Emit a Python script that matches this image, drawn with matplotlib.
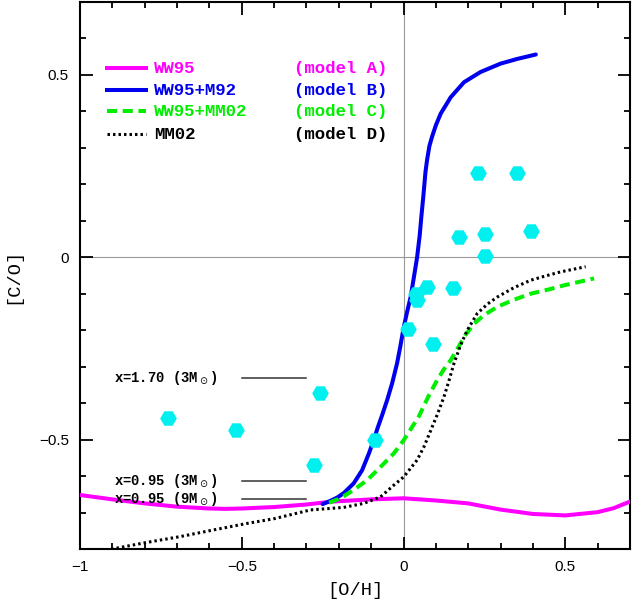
import matplotlib
matplotlib.use("Agg")
import matplotlib.pyplot as plt
from matplotlib.ticker import MultipleLocator

# WW95 (model A)
ww95_x = [-1.0, -0.9, -0.8, -0.7, -0.6, -0.55, -0.5, -0.4, -0.3, -0.22, -0.1,
          0.0, 0.1, 0.2, 0.3, 0.4, 0.5, 0.6, 0.65, 0.7]
ww95_y = [-0.652, -0.664, -0.675, -0.684, -0.689, -0.690, -0.689, -0.685, -0.678,
          -0.670, -0.664, -0.661, -0.667, -0.675, -0.692, -0.704, -0.708, -0.699,
          -0.688, -0.670]

# WW95+M92 (model B)
m92_x = [-0.25, -0.226, -0.205, -0.185, -0.154, -0.128, -0.107, -0.092, -0.08,
         -0.065, -0.05, -0.035, -0.02, -0.01, 0.0, 0.011, 0.022, 0.032, 0.042, 0.05,
         0.055, 0.061, 0.068, 0.073, 0.08, 0.088, 0.1, 0.115, 0.146, 0.187, 0.238,
         0.300, 0.352, 0.409]
m92_y = [-0.677, -0.668, -0.659, -0.647, -0.620, -0.584, -0.538, -0.501, -0.468,
         -0.430, -0.390, -0.345, -0.291, -0.245, -0.195, -0.150, -0.109, -0.055, 0.0,
         0.06, 0.11, 0.165, 0.235, 0.268, 0.305, 0.330, 0.362, 0.394, 0.439, 0.480,
         0.508, 0.531, 0.544, 0.556]

# WW95+MM02 (model C)
mm02c_x = [-0.23, -0.195, -0.154, -0.112, -0.071, -0.030, 0.001, 0.027, 0.047,
           0.08, 0.104, 0.125, 0.146, 0.166, 0.19, 0.218, 0.25, 0.29, 0.34, 0.393,
           0.45, 0.496, 0.54, 0.589]
mm02c_y = [-0.673, -0.661, -0.638, -0.611, -0.575, -0.538, -0.501, -0.465, -0.437,
           -0.376, -0.337, -0.307, -0.282, -0.252, -0.215, -0.182, -0.158, -0.136,
           -0.117, -0.100, -0.088, -0.077, -0.068, -0.058]

# MM02 (model D)
mm02_x = [-0.92, -0.9, -0.8, -0.69, -0.6, -0.484, -0.4, -0.288, -0.185, -0.123,
          -0.071, -0.030, 0.001, 0.042, 0.063, 0.078, 0.105, 0.125, 0.14, 0.156,
          0.176, 0.197, 0.228, 0.26, 0.29, 0.34, 0.393, 0.44, 0.486, 0.53, 0.563]
mm02_y = [-0.805, -0.800, -0.783, -0.766, -0.750, -0.730, -0.717, -0.693, -0.686,
          -0.675, -0.657, -0.625, -0.602, -0.556, -0.520, -0.488, -0.430, -0.383,
          -0.340, -0.291, -0.242, -0.200, -0.154, -0.128, -0.109, -0.084, -0.063,
          -0.051, -0.040, -0.032, -0.026]

# 观测点
obs_x = [-0.728, -0.519, -0.259, -0.278, -0.088, 0.013, 0.092, 0.040, 0.042, 0.073,
         0.152, 0.253, 0.173, 0.253, 0.393, 0.231, 0.352]
obs_y = [-0.441, -0.474, -0.371, -0.571, -0.502, -0.196, -0.239, -0.100, -0.116,
         -0.081, -0.085, 0.003, 0.055, 0.065, 0.073, 0.231, 0.231]

# 参考水平线
ref_labels = [r"x=1.70 (3M$_\odot$)", r"x=0.95 (3M$_\odot$)", r"x=0.95 (9M$_\odot$)"]
ref_y = [-0.33, -0.614, -0.664]

legend_names = ["WW95", "WW95+M92", "WW95+MM02", "MM02"]
legend_models = ["(model A)", "(model B)", "(model C)", "(model D)"]
legend_colors = ["#ff00ff", "#0000ee", "#00ee00", "black"]

MONO = "Liberation Mono"
DASH = (2.5, 1.4)
DOT = (0.8, 1.0)
plt.rcParams["font.family"] = ["Liberation Sans", "DejaVu Sans"]
plt.rcParams["mathtext.fontset"] = "dejavusans"

fig = plt.figure(figsize=(6.32, 6.04), dpi=100)
ax = fig.add_axes([0.1266, 0.0911, 0.8702, 0.9056])

ax.axvline(0, color="#999999", lw=0.8, zorder=1)
ax.axhline(0, color="#999999", lw=0.8, zorder=1)

ax.plot(ww95_x, ww95_y, color=legend_colors[0], lw=2.9, zorder=3)
ax.plot(m92_x, m92_y, color=legend_colors[1], lw=2.9, solid_capstyle="round",
        solid_joinstyle="round", zorder=4)
ax.plot(mm02c_x, mm02c_y, color=legend_colors[2], lw=2.9, dashes=DASH, zorder=4)
ax.plot(mm02_x, mm02_y, color=legend_colors[3], lw=2.2, dashes=DOT, zorder=4)

ax.plot(obs_x, obs_y, "H", color="#00f0f0", markersize=12, markeredgewidth=0, zorder=5)

for lab, yy in zip(ref_labels, ref_y):
    ax.plot([-0.5, -0.3], [yy, yy], color="#333333", lw=1.1, zorder=2)
    ax.text(-0.573, yy, lab, ha="right", va="center", fontsize=10,
            family=MONO, fontweight="bold")

# 图例 (手动绘制)
leg_y = [0.518, 0.458, 0.400, 0.337]
styles = [dict(lw=2.9), dict(lw=2.9), dict(lw=2.9, dashes=DASH),
          dict(lw=2.2, dashes=DOT)]
for name, model, col, yy, st in zip(legend_names, legend_models, legend_colors, leg_y, styles):
    ax.plot([-0.916, -0.796], [yy, yy], color=col, **st)
    ax.text(-0.77, yy, name, color=col, ha="left", va="center", fontsize=12.5,
            family=MONO, fontweight="bold")
    ax.text(-0.34, yy, model, color=col, ha="left", va="center", fontsize=12.5,
            family=MONO, fontweight="bold")

ax.set_xlim(-1.0, 0.7)
ax.set_ylim(-0.8, 0.7)
ax.xaxis.set_minor_locator(MultipleLocator(0.1))
ax.yaxis.set_minor_locator(MultipleLocator(0.1))
ax.set_xticks([-1, -0.5, 0, 0.5])
ax.set_xticklabels(["\u22121", "\u22120.5", "0", "0.5"])
ax.set_yticks([-0.5, 0, 0.5])
ax.set_yticklabels(["\u22120.5", "0", "0.5"])
ax.tick_params(which="both", direction="in", top=True, right=True, width=1.3,
               labelsize=11, pad=8)
ax.tick_params(which="major", length=9)
ax.tick_params(which="minor", length=4.5)
for sp in ax.spines.values():
    sp.set_linewidth(1.5)

ax.set_xlabel("[O/H]", family=MONO, fontsize=13.5, labelpad=6)
ax.set_ylabel("[C/O]", family=MONO, fontsize=13.5, labelpad=13)

fig.savefig("out.png", dpi=100)
